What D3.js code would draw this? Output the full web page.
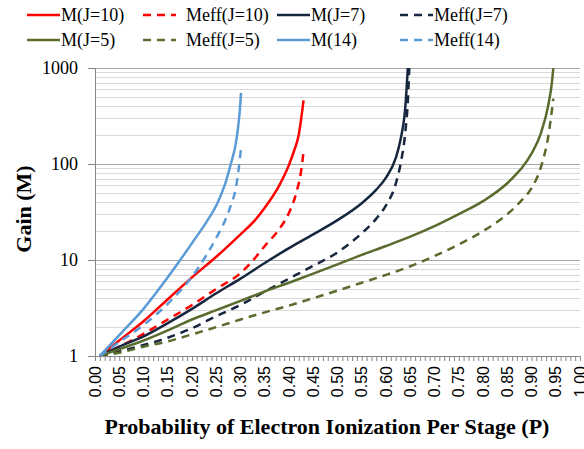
<!DOCTYPE html>
<html>
<head>
<meta charset="utf-8">
<script src="https://cdn.jsdelivr.net/npm/d3@7/dist/d3.min.js"></script>
<style>
  body { margin: 0; background: #fff; }
</style>
</head>
<body>
<div id="chart"></div>
<script>
var svgWidth = 584;
var svgHeight = 449;

var margin = { top: 68, right: 4, bottom: 93, left: 95 };
var width = svgWidth - margin.left - margin.right;
var height = svgHeight - margin.top - margin.bottom;

var serif = "'Liberation Serif', 'Times New Roman', serif";

// values
var seriesNames = ["M(J=10)", "Meff(J=10)", "M(J=7)", "Meff(J=7)", "M(J=5)", "Meff(J=5)", "M(14)", "Meff(14)"];
var seriesColors = ["#ff0000", "#ff0000", "#17263f", "#17263f", "#5a6b2e", "#5a6b2e", "#5b9bd5", "#5b9bd5"];
var seriesDashed = [false, true, false, true, false, true, false, true];

var pJ10 = [0.01, 0.05, 0.1, 0.15, 0.2, 0.25, 0.3, 0.33, 0.35, 0.38, 0.4, 0.41, 0.42, 0.43];
var mJ10 = [1, 1.45, 2.3, 3.9, 6.6, 10.8, 18.5, 26, 35, 60, 98, 135, 200, 460];

var pJ10eff = [0.01, 0.05, 0.1, 0.15, 0.2, 0.25, 0.3, 0.33, 0.35, 0.38, 0.4, 0.415, 0.425, 0.43];
var mJ10eff = [1, 1.25, 1.7, 2.4, 3.4, 5.0, 7.3, 10.5, 14, 21, 31, 50, 85, 135];

var pJ7 = [0.01, 0.05, 0.1, 0.15, 0.2, 0.25, 0.3, 0.35, 0.4, 0.45, 0.5, 0.55, 0.58, 0.6, 0.62, 0.63, 0.64, 0.645];
var mJ7 = [1, 1.25, 1.6, 2.2, 3.1, 4.5, 6.4, 9.3, 13.3, 18.5, 26, 39, 54, 72, 115, 180, 400, 1000];

var pJ7eff = [0.01, 0.05, 0.1, 0.15, 0.2, 0.25, 0.3, 0.35, 0.4, 0.45, 0.5, 0.55, 0.58, 0.6, 0.62, 0.63, 0.64, 0.645, 0.648];
var mJ7eff = [1, 1.12, 1.3, 1.55, 1.95, 2.6, 3.4, 4.7, 6.4, 8.7, 12, 19, 27, 37, 62, 100, 220, 450, 1000];

var pJ5 = [0.01, 0.05, 0.1, 0.15, 0.2, 0.25, 0.3, 0.35, 0.4, 0.45, 0.5, 0.55, 0.6, 0.65, 0.7, 0.75, 0.8, 0.85, 0.87, 0.88, 0.9, 0.92, 0.935, 0.942, 0.945];
var mJ5 = [1, 1.18, 1.45, 1.85, 2.4, 3.0, 3.75, 4.7, 5.8, 7.2, 9.0, 11.3, 14, 17.5, 22.5, 30, 41, 63, 80, 91, 128, 214, 420, 700, 1000];

var pJ5eff = [0.01, 0.05, 0.1, 0.15, 0.2, 0.25, 0.3, 0.35, 0.4, 0.45, 0.5, 0.55, 0.6, 0.65, 0.7, 0.75, 0.8, 0.85, 0.88, 0.9, 0.92, 0.935, 0.945];
var mJ5eff = [1, 1.08, 1.25, 1.42, 1.68, 2.0, 2.4, 2.85, 3.35, 4.0, 4.8, 5.8, 7.0, 8.6, 11, 14.5, 20, 30, 42, 56, 95, 200, 480];

var pJ14 = [0.01, 0.05, 0.1, 0.15, 0.2, 0.23, 0.25, 0.26, 0.27, 0.28, 0.29, 0.295, 0.3, 0.301];
var mJ14 = [1, 1.65, 3.1, 6.6, 15, 25, 37, 48, 66, 100, 160, 240, 450, 550];

var pJ14eff = [0.01, 0.05, 0.1, 0.15, 0.2, 0.23, 0.25, 0.27, 0.28, 0.29, 0.296, 0.3, 0.302];
var mJ14eff = [1, 1.4, 2.1, 3.5, 6.7, 11.3, 17, 27, 37, 55, 87, 130, 160];

var seriesP = [pJ10, pJ10eff, pJ7, pJ7eff, pJ5, pJ5eff, pJ14, pJ14eff];
var seriesM = [mJ10, mJ10eff, mJ7, mJ7eff, mJ5, mJ5eff, mJ14, mJ14eff];

var xTicks = d3.range(0, 21).map(function(i) { return i * 0.05; });
var xMinorTicks = d3.range(0, 101).map(function(i) { return i * 0.01; });
var yTicks = [1, 10, 100, 1000];

var svg = d3.select("#chart")
  .append("svg")
  .attr("width", svgWidth)
  .attr("height", svgHeight);

var chartGroup = svg.append("g")
  .attr("transform", `translate(${margin.left}, ${margin.top})`);

var xScale = d3.scaleLinear().domain([0, 1]).range([0, width]);
var yScale = d3.scaleLog().domain([1, 1000]).range([height, 0]);

// gridlines: minor first, then decades
var minorVals = [];
[1, 10, 100].forEach(function(d) {
  for (var k = 2; k <= 9; k++) minorVals.push(d * k);
});

chartGroup.append("g")
  .selectAll("line")
  .data(minorVals)
  .enter()
  .append("line")
  .attr("x1", 0)
  .attr("x2", width)
  .attr("y1", d => Math.round(yScale(d)) + 0.5)
  .attr("y2", d => Math.round(yScale(d)) + 0.5)
  .attr("stroke", "#d9d9d9")
  .attr("stroke-width", 1);

chartGroup.append("g")
  .selectAll("line")
  .data(yTicks.slice(1))
  .enter()
  .append("line")
  .attr("x1", 0)
  .attr("x2", width)
  .attr("y1", d => Math.round(yScale(d)) + 0.5)
  .attr("y2", d => Math.round(yScale(d)) + 0.5)
  .attr("stroke", "#a6a6a6")
  .attr("stroke-width", 1);

// y axis
var leftAxis = d3.axisLeft(yScale)
  .tickValues(yTicks)
  .tickFormat(d3.format("d"))
  .tickSize(7)
  .tickPadding(10);

var yAxis = chartGroup.append("g").call(leftAxis);
yAxis.select(".domain").attr("stroke", "#868686");
yAxis.selectAll(".tick line").attr("stroke", "#868686");
yAxis.selectAll(".tick text")
  .attr("fill", "#000")
  .style("font-family", serif)
  .style("font-size", "18px");

// x axis: minor ticks every 0.01, labels every 0.05
var bottomAxis = d3.axisBottom(xScale)
  .tickValues(xMinorTicks)
  .tickFormat("")
  .tickSize(5)
  .tickSizeOuter(0);

var xAxis = chartGroup.append("g")
  .attr("transform", `translate(0, ${height})`)
  .call(bottomAxis);
xAxis.select(".domain").attr("stroke", "#868686");
xAxis.selectAll(".tick line").attr("stroke", "#868686");

chartGroup.append("g")
  .selectAll("text")
  .data(xTicks)
  .enter()
  .append("text")
  .attr("transform", d => `translate(${xScale(d)}, ${height + 10}) rotate(-90)`)
  .attr("text-anchor", "end")
  .attr("dy", "0.35em")
  .style("font-family", "'Liberation Sans', Arial, sans-serif")
  .style("font-size", "16px")
  .text(d3.format(".2f"));

// curves
chartGroup.append("clipPath")
  .attr("id", "plotClip")
  .append("rect")
  .attr("x", 0)
  .attr("y", 0)
  .attr("width", width)
  .attr("height", height);

var line = d3.line()
  .x(d => xScale(d[0]))
  .y(d => yScale(d[1]))
  .curve(d3.curveMonotoneX);

var curves = chartGroup.append("g").attr("clip-path", "url(#plotClip)");

seriesNames.forEach(function(name, i) {
  var pts = seriesP[i].map(function(p, j) { return [p, seriesM[i][j]]; });
  curves.append("path")
    .datum(pts)
    .attr("d", line)
    .attr("fill", "none")
    .attr("stroke", seriesColors[i])
    .attr("stroke-width", 2.5)
    .attr("stroke-dasharray", seriesDashed[i] ? "8,6" : null);
});

// axis titles
svg.append("text")
  .attr("x", 327)
  .attr("y", 434)
  .attr("text-anchor", "middle")
  .style("font-family", serif)
  .style("font-weight", "bold")
  .style("font-size", "22px")
  .text("Probability of Electron Ionization Per Stage (P)");

svg.append("text")
  .attr("transform", "translate(31, 209) rotate(-90)")
  .attr("text-anchor", "middle")
  .style("font-family", serif)
  .style("font-weight", "bold")
  .style("font-size", "22px")
  .text("Gain (M)");

// legend, two rows of four
var legendX = [27, 143, 277, 400];
var legendTextX = [61, 186, 311, 434];
var legendY = [15, 40];

seriesNames.forEach(function(name, i) {
  var col = i % 4;
  var row = Math.floor(i / 4);
  var lg = svg.append("g");
  lg.append("line")
    .attr("x1", legendX[col])
    .attr("x2", legendX[col] + 33)
    .attr("y1", legendY[row])
    .attr("y2", legendY[row])
    .attr("stroke", seriesColors[i])
    .attr("stroke-width", 2.5)
    .attr("stroke-dasharray", seriesDashed[i] ? "8,6" : null);
  lg.append("text")
    .attr("x", legendTextX[col])
    .attr("y", legendY[row])
    .attr("dy", "0.35em")
    .style("font-family", serif)
    .style("font-size", "18px")
    .text(name);
});
</script>
</body>
</html>
